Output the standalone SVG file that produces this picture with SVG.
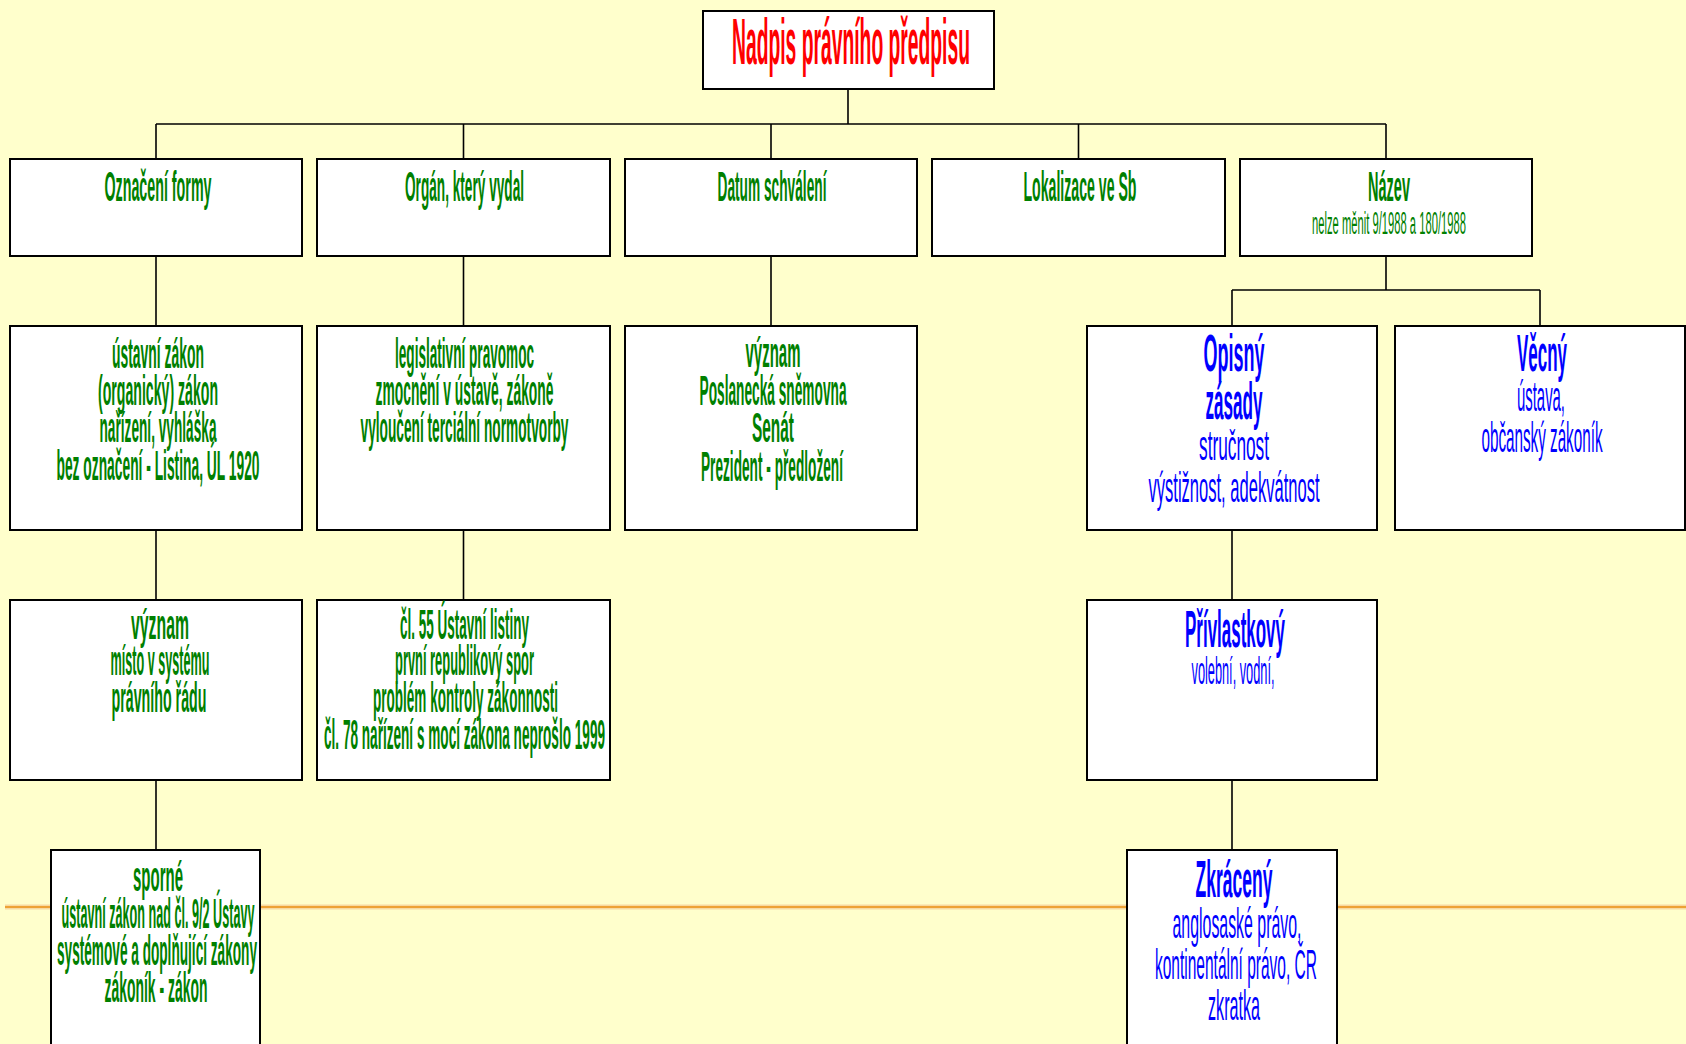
<svg xmlns="http://www.w3.org/2000/svg" width="1686" height="1044" viewBox="0 0 1686 1044">
<style>
.box{fill:#FFFFFF;stroke:#000000;stroke-width:2}
.con{stroke:#000000;stroke-width:1.6;fill:none}
text{font-family:"Liberation Sans",Arial,sans-serif;text-anchor:middle}
.r{fill:#FF0000;font-weight:bold;font-size:64px}
.g{fill:#008000;font-weight:bold;font-size:43px}
.gt{fill:#008000;font-weight:bold;font-size:42px}
.gs{fill:#008000;font-size:31px}
.bb{fill:#0000FF;font-weight:bold;font-size:52px}
.bn{fill:#0000FF;font-size:43px}
</style>
<rect x="0" y="0" width="1686" height="1044" fill="#FFFFCC"/>
<g id="orange-line">
<line x1="5" y1="907" x2="1686" y2="907" stroke="#F8D9A0" stroke-width="5"/>
<line x1="5" y1="907" x2="1686" y2="907" stroke="#EDA235" stroke-width="2"/>
</g>
<g id="connectors" class="con">
<line x1="848" y1="89" x2="848" y2="124"/>
<line x1="156" y1="124" x2="1386" y2="124"/>
<line x1="156" y1="124" x2="156" y2="159"/>
<line x1="463.5" y1="124" x2="463.5" y2="159"/>
<line x1="771" y1="124" x2="771" y2="159"/>
<line x1="1078.5" y1="124" x2="1078.5" y2="159"/>
<line x1="1386" y1="124" x2="1386" y2="159"/>
<line x1="156" y1="256" x2="156" y2="326"/>
<line x1="463.5" y1="256" x2="463.5" y2="326"/>
<line x1="771" y1="256" x2="771" y2="326"/>
<line x1="1386" y1="256" x2="1386" y2="290"/>
<line x1="1232" y1="290" x2="1540" y2="290"/>
<line x1="1232" y1="290" x2="1232" y2="326"/>
<line x1="1540" y1="290" x2="1540" y2="326"/>
<line x1="156" y1="530" x2="156" y2="600"/>
<line x1="463.5" y1="530" x2="463.5" y2="600"/>
<line x1="1232" y1="530" x2="1232" y2="600"/>
<line x1="156" y1="780" x2="156" y2="850"/>
<line x1="1232" y1="780" x2="1232" y2="850"/>
</g>
<g id="root">
<rect class="box" x="703" y="11" width="291" height="78"/>
<text class="r" x="851" y="64" textLength="238" lengthAdjust="spacingAndGlyphs">Nadpis právního předpisu</text>
</g>
<g id="oznaceni-formy">
<rect class="box" x="10" y="159" width="292" height="97"/>
<text class="gt" x="158" y="201" textLength="107" lengthAdjust="spacingAndGlyphs">Označení formy</text>
</g>
<g id="organ">
<rect class="box" x="317" y="159" width="293" height="97"/>
<text class="gt" x="464.5" y="201" textLength="119" lengthAdjust="spacingAndGlyphs">Orgán, který vydal</text>
</g>
<g id="datum">
<rect class="box" x="625" y="159" width="292" height="97"/>
<text class="gt" x="772" y="201" textLength="109" lengthAdjust="spacingAndGlyphs">Datum schválení</text>
</g>
<g id="lokalizace">
<rect class="box" x="932" y="159" width="293" height="97"/>
<text class="gt" x="1080" y="201" textLength="113" lengthAdjust="spacingAndGlyphs">Lokalizace ve Sb</text>
</g>
<g id="nazev">
<rect class="box" x="1240" y="159" width="292" height="97"/>
<text class="gt" x="1389" y="201" textLength="42" lengthAdjust="spacingAndGlyphs">Název</text>
<text class="gs" x="1389" y="234" textLength="154" lengthAdjust="spacingAndGlyphs">nelze měnit 9/1988 a 180/1988</text>
</g>
<g id="formy-list">
<rect class="box" x="10" y="326" width="292" height="204"/>
<text class="g" x="158" y="368" textLength="92" lengthAdjust="spacingAndGlyphs">ústavní zákon</text>
<text class="g" x="158" y="405" textLength="120" lengthAdjust="spacingAndGlyphs">(organický) zákon</text>
<text class="g" x="158" y="442" textLength="117" lengthAdjust="spacingAndGlyphs">nařízení, vyhláška</text>
<text class="g" x="158" y="480" textLength="203" lengthAdjust="spacingAndGlyphs">bez označení - Listina, ÚL 1920</text>
</g>
<g id="pravomoc">
<rect class="box" x="317" y="326" width="293" height="204"/>
<text class="g" x="464.5" y="368" textLength="139" lengthAdjust="spacingAndGlyphs">legislativní pravomoc</text>
<text class="g" x="464.5" y="405" textLength="178" lengthAdjust="spacingAndGlyphs">zmocnění v ústavě, zákoně</text>
<text class="g" x="464.5" y="442" textLength="208" lengthAdjust="spacingAndGlyphs">vyloučení terciální normotvorby</text>
</g>
<g id="schvaleni-vyznam">
<rect class="box" x="625" y="326" width="292" height="204"/>
<text class="g" x="773" y="367" textLength="55" lengthAdjust="spacingAndGlyphs">význam</text>
<text class="g" x="773" y="405" textLength="147" lengthAdjust="spacingAndGlyphs">Poslanecká sněmovna</text>
<text class="g" x="773" y="442" textLength="42" lengthAdjust="spacingAndGlyphs">Senát</text>
<text class="g" x="772" y="481" textLength="142" lengthAdjust="spacingAndGlyphs">Prezident - předložení</text>
</g>
<g id="opisny">
<rect class="box" x="1087" y="326" width="290" height="204"/>
<text class="bb" x="1234" y="371" textLength="61" lengthAdjust="spacingAndGlyphs">Opisný</text>
<text class="bb" x="1234" y="419" textLength="57" lengthAdjust="spacingAndGlyphs">zásady</text>
<text class="bn" x="1234" y="460" textLength="70" lengthAdjust="spacingAndGlyphs">stručnost</text>
<text class="bn" x="1234" y="502" textLength="171" lengthAdjust="spacingAndGlyphs">výstižnost, adekvátnost</text>
</g>
<g id="vecny">
<rect class="box" x="1395" y="326" width="290" height="204"/>
<text class="bb" x="1542" y="371" textLength="50" lengthAdjust="spacingAndGlyphs">Věcný</text>
<text class="bn" x="1541" y="411" textLength="48" lengthAdjust="spacingAndGlyphs">ústava,</text>
<text class="bn" x="1542" y="452" textLength="121" lengthAdjust="spacingAndGlyphs">občanský zákoník</text>
</g>
<g id="vyznam-misto">
<rect class="box" x="10" y="600" width="292" height="180"/>
<text class="g" x="160" y="639" textLength="58" lengthAdjust="spacingAndGlyphs">význam</text>
<text class="g" x="160" y="675" textLength="99" lengthAdjust="spacingAndGlyphs">místo v systému</text>
<text class="g" x="159" y="712" textLength="95" lengthAdjust="spacingAndGlyphs">právního řádu</text>
</g>
<g id="cl55">
<rect class="box" x="317" y="600" width="293" height="180"/>
<text class="g" x="464.5" y="639" textLength="129" lengthAdjust="spacingAndGlyphs">čl. 55 Ústavní listiny</text>
<text class="g" x="464.5" y="675" textLength="139" lengthAdjust="spacingAndGlyphs">první republikový spor</text>
<text class="g" x="465.5" y="712" textLength="185" lengthAdjust="spacingAndGlyphs">problém kontroly zákonnosti</text>
<text class="g" x="464.5" y="749" textLength="281" lengthAdjust="spacingAndGlyphs">čl. 78 nařízení s mocí zákona neprošlo 1999</text>
</g>
<g id="privlastkovy">
<rect class="box" x="1087" y="600" width="290" height="180"/>
<text class="bb" x="1235" y="647" textLength="100" lengthAdjust="spacingAndGlyphs">Přívlastkový</text>
<text class="bn" x="1233" y="684" textLength="83" lengthAdjust="spacingAndGlyphs" style="font-size:38px">volební, vodní,</text>
</g>
<g id="sporne">
<rect class="box" x="51" y="850" width="209" height="210"/>
<text class="g" x="158" y="891" textLength="50" lengthAdjust="spacingAndGlyphs">sporné</text>
<text class="g" x="158" y="928" textLength="193" lengthAdjust="spacingAndGlyphs">ústavní zákon nad čl. 9/2 Ústavy</text>
<text class="g" x="157" y="965" textLength="200" lengthAdjust="spacingAndGlyphs">systémové a doplňující zákony</text>
<text class="g" x="156" y="1002" textLength="103" lengthAdjust="spacingAndGlyphs">zákoník - zákon</text>
</g>
<g id="zkraceny">
<rect class="box" x="1127" y="850" width="210" height="210"/>
<text class="bb" x="1234" y="897" textLength="77" lengthAdjust="spacingAndGlyphs">Zkrácený</text>
<text class="bn" x="1237" y="938" textLength="129" lengthAdjust="spacingAndGlyphs">anglosaské právo,</text>
<text class="bn" x="1236" y="979" textLength="162" lengthAdjust="spacingAndGlyphs">kontinentální právo, ČR</text>
<text class="bn" x="1234" y="1020" textLength="52" lengthAdjust="spacingAndGlyphs">zkratka</text>
</g>
</svg>
